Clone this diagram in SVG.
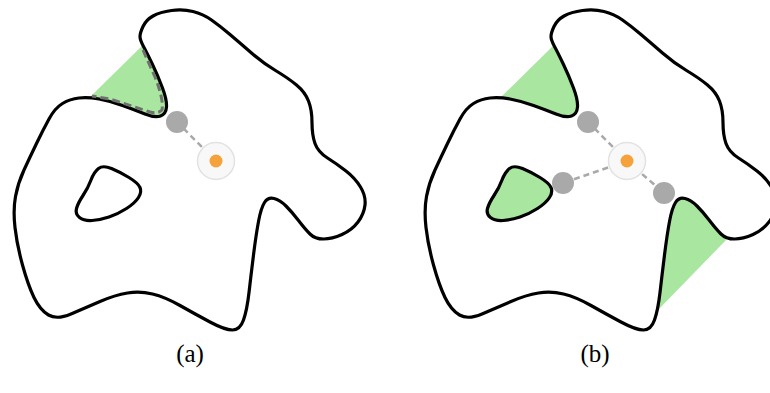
<svg xmlns="http://www.w3.org/2000/svg" xmlns:xlink="http://www.w3.org/1999/xlink" width="770" height="393" viewBox="0 0 770 393">
<style>
.outline{fill:#ffffff;stroke:#000000;stroke-width:3.2;stroke-linejoin:round}
.hole{stroke:#000000;stroke-width:3.2;stroke-linejoin:round}
.green{fill:#a9e6a0;stroke:none}
.ray{stroke:#a9a9a9;stroke-width:2.5;stroke-dasharray:6 4;fill:none}
.gdot{fill:#a9a9a9}
.halo{fill:#f8f8f8;stroke:#e2e2e2;stroke-width:1.5}
.odot{fill:#f5a23c}
.trace{fill:none;stroke:#707070;stroke-width:3;stroke-dasharray:8 4}
.label{font-family:"Liberation Serif","Times New Roman",serif;font-size:25px;fill:#000000}
</style>
<defs>
<path id="body" d="M143,26.5 Q146,20 153,16 Q160,12 171.5,10.5 Q183,9 193,11.5 Q203,14 211.5,20 Q220,26 230,34.5 Q240,43 251.5,53 Q263,63 275.5,70.5 Q288,78 296.5,85 Q305,92 308.5,101 Q312,110 312,122.5 Q312,135 315,143.5 Q318,152 327.5,158 Q337,164 346,171 Q355,178 360.5,187 Q366,196 365,205 Q364,214 358,222 Q352,230 342,234.5 Q332,239 323.5,239 Q315,239 310,234 Q305,229 298.5,220.5 Q292,212 286,206 Q280,200 274,198.5 Q268,197 264.5,202.5 Q261,208 258.5,221.5 Q256,235 253.5,255 Q251,275 249,292.5 Q247,310 243.5,320 Q240,330 232.5,330 Q225,330 210,322 Q195,314 180,305.5 Q165,297 152.5,294 Q140,291 127.5,293 Q115,295 100,301.5 Q85,308 71,314 Q57,320 48.5,315 Q40,310 34,297.5 Q28,285 22.5,265 Q17,245 15,227.5 Q13,210 15.5,196.5 Q18,183 24,170 Q30,157 36.5,143.5 Q43,130 49,119 Q55,108 62.5,103.5 Q70,99 79,98 Q88,97 99,99 Q110,101 122.5,105.5 Q135,110 145,114 Q155,118 160.5,116 Q166,114 166.5,107 Q167,100 162.5,88 Q158,76 152.5,64.5 Q147,53 143.5,46.5 Q140,40 140,36.5 Q140,33 143,26.5 Z"/>
<path id="holeshape" d="M98.5,168.5 Q94,172 91,180 Q88,188 83,195.5 Q78,203 76.5,208.5 Q75,214 79.5,217.5 Q84,221 92,220.5 Q100,220 109,217 Q118,214 126.5,208.5 Q135,203 138.5,197.5 Q142,192 140,187.5 Q138,183 129,177.5 Q120,172 111.5,168.5 Q103,165 98.5,168.5 Z"/>
</defs>

<g id="panel-a">
  <g id="a-region">
    <polygon class="green" points="90,97 143,45 155,60 175,110 165,130 120,115 88,105"/>
    <use xlink:href="#body" class="outline"/>
    <use xlink:href="#holeshape" class="hole" fill="#ffffff"/>
    <path class="trace" d="M143,50 L155,77 Q164,100 162,110 Q158,114 150,112 Q135,107 110,99 L92,96"/>
  </g>
  <g id="a-connectors">
    <line class="ray" x1="216" y1="161" x2="177" y2="122"/>
  </g>
  <g id="a-guard">
    <circle class="gdot" cx="177" cy="122" r="11"/>
  </g>
  <g id="a-viewer">
    <circle class="halo" cx="216" cy="161" r="18.5"/>
    <circle class="odot" cx="216" cy="161" r="6.5"/>
  </g>
  <text id="label-a" class="label" x="190" y="362" text-anchor="middle">(a)</text>
</g>

<g id="panel-b">
  <g id="b-region">
    <polygon class="green" points="501,97 554,45 566,60 586,110 576,130 531,115 499,105"/>
    <polygon class="green" points="656,312 728,238 715,215 690,185 660,195 648,260 650,310"/>
    <use xlink:href="#body" class="outline" transform="translate(411,0)"/>
    <use xlink:href="#holeshape" class="hole" fill="#a9e6a0" transform="translate(411,0)"/>
  </g>
  <g id="b-connectors">
    <line class="ray" x1="627" y1="161" x2="588" y2="122"/>
    <line class="ray" x1="627" y1="161" x2="563" y2="183"/>
    <line class="ray" x1="627" y1="161" x2="664" y2="193"/>
  </g>
  <g id="b-guards">
    <circle class="gdot" cx="588" cy="122" r="11"/>
    <circle class="gdot" cx="563" cy="183" r="11"/>
    <circle class="gdot" cx="664" cy="193" r="11"/>
  </g>
  <g id="b-viewer">
    <circle class="halo" cx="627" cy="161" r="18.5"/>
    <circle class="odot" cx="627" cy="161" r="6.5"/>
  </g>
  <text id="label-b" class="label" x="595" y="362" text-anchor="middle">(b)</text>
</g>
</svg>
